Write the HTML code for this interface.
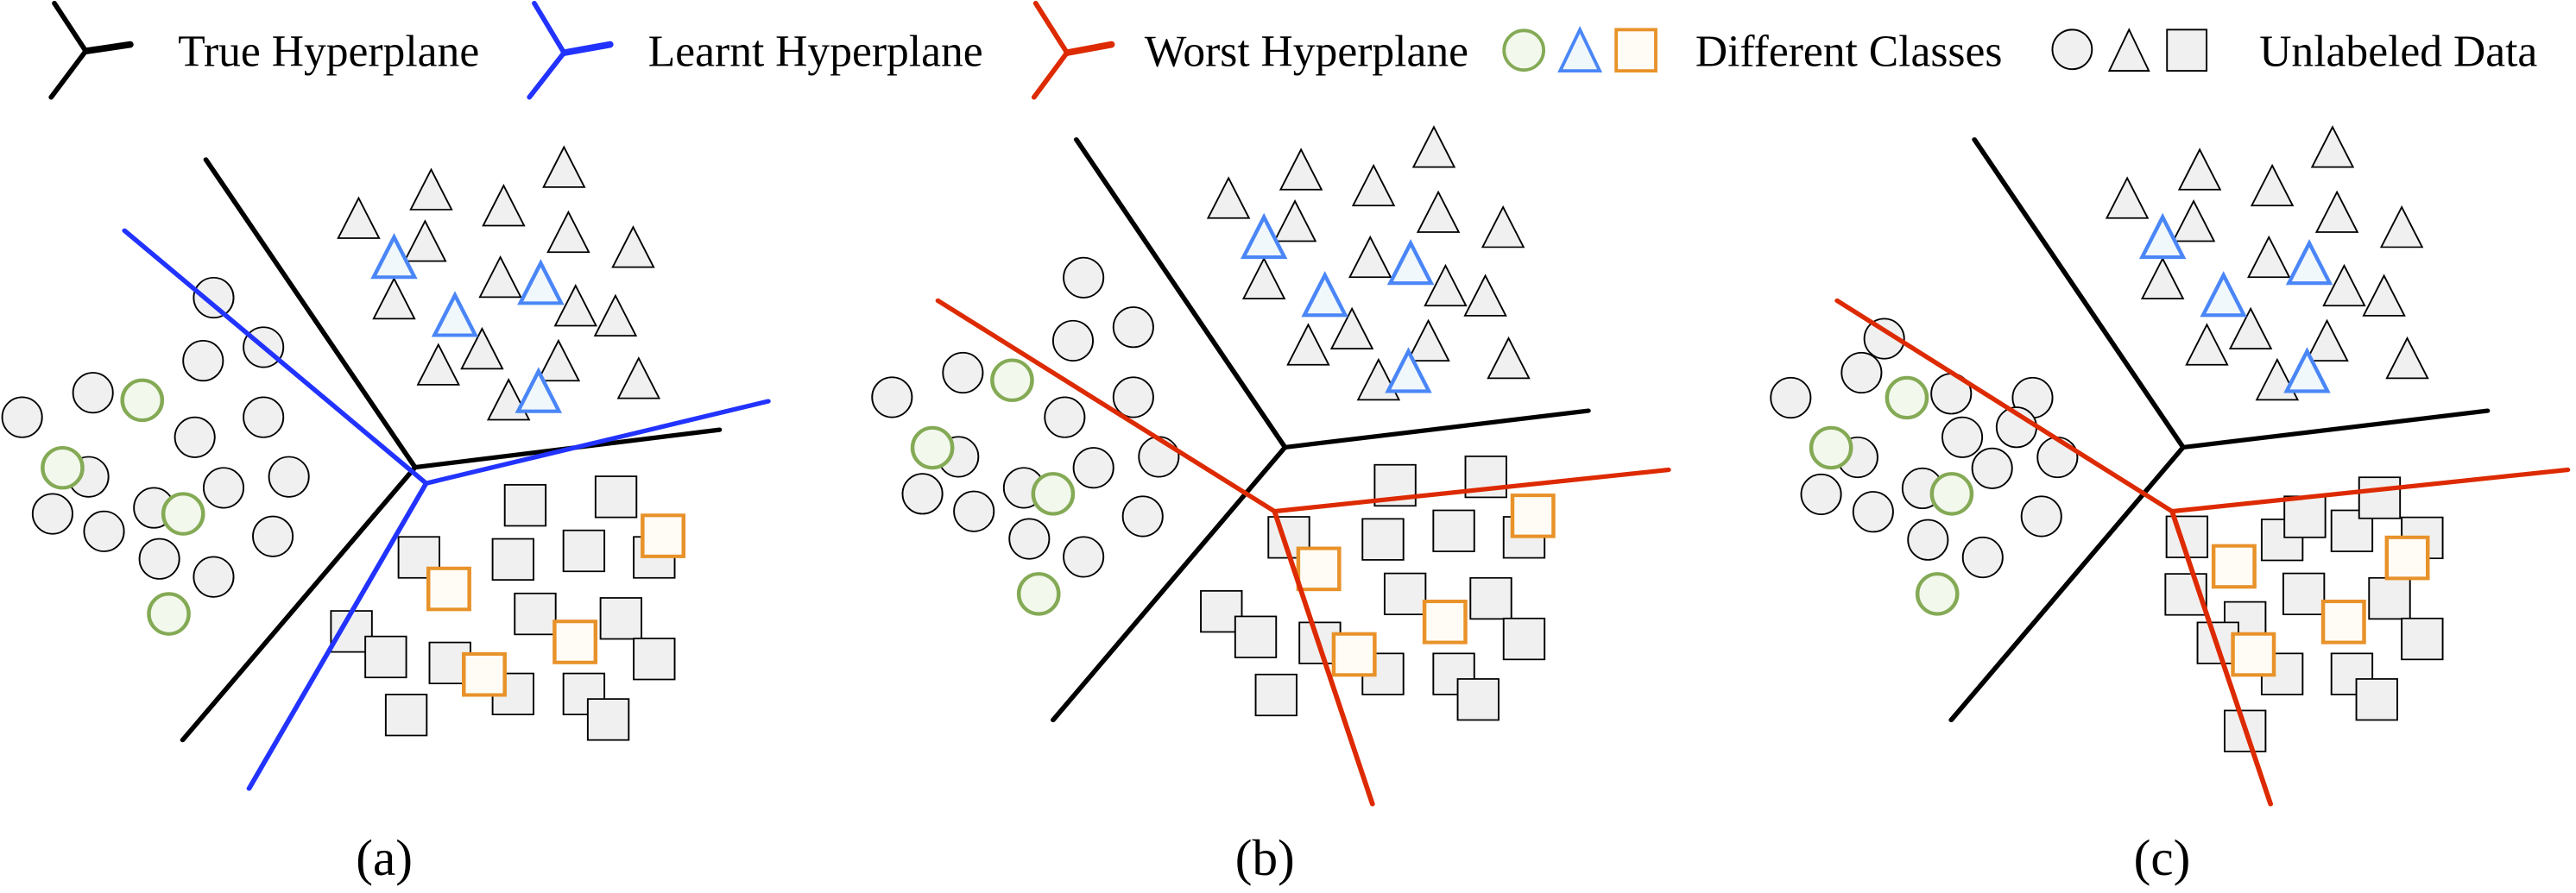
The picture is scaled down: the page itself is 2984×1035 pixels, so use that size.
<!DOCTYPE html>
<html><head><meta charset="utf-8"><style>html,body{margin:0;padding:0;background:#fff}svg{display:block}</style></head>
<body>
<svg width="2984" height="1035" viewBox="0 0 1562 542" preserveAspectRatio="none" xmlns="http://www.w3.org/2000/svg">
<defs>
<path id="t" d="M0,0 L37,80 L-37,80 Z" fill="#f0f0f0" stroke="#000" stroke-width="3"/>
<path id="tb" d="M0,0 L37,80 L-37,80 Z" fill="#f0f8fc" stroke="#4a86f7" stroke-width="7"/>
<ellipse id="c" rx="36" ry="40" fill="#f0f0f0" stroke="#000" stroke-width="3"/>
<ellipse id="cg" rx="36" ry="40" fill="#f2f8ec" stroke="#84aa55" stroke-width="7"/>
<rect id="s" width="74" height="82" fill="#f0f0f0" stroke="#000" stroke-width="3"/>
<rect id="so" width="74" height="82" fill="#fffcf5" stroke="#e8922a" stroke-width="7"/>
</defs>
<!-- Legend -->
<g fill="none" stroke-width="3" stroke-linecap="round">
<polyline points="33,2 52,31 31,59" stroke="#000"/><line x1="52" y1="31" x2="79" y2="27" stroke="#000" stroke-width="4"/>
<polyline points="324,2 342,32 321,59" stroke="#2233ff"/><line x1="342" y1="32" x2="370" y2="27" stroke="#2233ff" stroke-width="4"/>
<polyline points="628,2 647,32 627,59" stroke="#dd2a00"/><line x1="647" y1="32" x2="674" y2="27" stroke="#dd2a00" stroke-width="4"/>
</g>
<g font-family="Liberation Serif, serif" font-size="27" fill="#000">
<text x="108" y="40">True Hyperplane</text>
<text x="393" y="40">Learnt Hyperplane</text>
<text x="694" y="40">Worst Hyperplane</text>
<text x="1028" y="40">Different Classes</text>
<text x="1370" y="40">Unlabeled Data</text>
</g>
<circle cx="924" cy="30.5" r="12" fill="#f2f8ec" stroke="#84aa55" stroke-width="2"/>
<path d="M958,18 L970,43 L946,43 Z" fill="#f0f8fc" stroke="#4a86f7" stroke-width="2"/>
<rect x="980" y="18" width="24" height="25" fill="#fffcf5" stroke="#e8922a" stroke-width="2"/>
<circle cx="1256.5" cy="30" r="12" fill="#f0f0f0" stroke="#000" stroke-width="1"/>
<path d="M1291,18 L1303,43 L1279,43 Z" fill="#f0f0f0" stroke="#000" stroke-width="1"/>
<rect x="1314" y="18" width="24" height="25" fill="#f0f0f0" stroke="#000" stroke-width="1"/>

<!-- Panel a -->
<g transform="translate(0,68) scale(0.3356,0.3037)">
<g>
<use href="#c" x="386" y="371"/><use href="#c" x="476" y="470"/><use href="#c" x="367" y="497"/><use href="#c" x="168" y="561"/><use href="#c" x="40" y="610"/><use href="#c" x="476" y="610"/><use href="#c" x="352" y="650"/><use href="#c" x="160" y="729"/><use href="#c" x="522" y="729"/><use href="#c" x="404" y="751"/><use href="#c" x="95" y="803"/><use href="#c" x="278" y="791"/><use href="#c" x="188" y="838"/><use href="#c" x="493" y="848"/><use href="#c" x="288" y="893"/><use href="#c" x="386" y="929"/>
<use href="#cg" x="257" y="576"/><use href="#cg" x="113" y="711"/><use href="#cg" x="331" y="803"/><use href="#cg" x="305" y="1003"/>
<use href="#t" x="648" y="172"/><use href="#t" x="779" y="115"/><use href="#t" x="910" y="147"/><use href="#t" x="1019" y="70"/><use href="#t" x="768" y="218"/><use href="#t" x="1027" y="200"/><use href="#t" x="1144" y="230"/><use href="#t" x="712" y="333"/><use href="#t" x="904" y="290"/><use href="#t" x="1040" y="347"/><use href="#t" x="1112" y="367"/><use href="#t" x="792" y="465"/><use href="#t" x="871" y="433"/><use href="#t" x="1009" y="457"/><use href="#t" x="1154" y="492"/><use href="#t" x="919" y="535"/>
<use href="#tb" x="712" y="250"/><use href="#tb" x="977" y="302"/><use href="#tb" x="822" y="366"/><use href="#tb" x="973" y="518"/>
<use href="#s" x="912" y="745"/><use href="#s" x="1076" y="728"/><use href="#s" x="720" y="849"/><use href="#s" x="890" y="853"/><use href="#s" x="1018" y="836"/><use href="#s" x="1145" y="849"/><use href="#s" x="930" y="962"/><use href="#s" x="1085" y="971"/><use href="#s" x="598" y="997"/><use href="#s" x="660" y="1048"/><use href="#s" x="776" y="1060"/><use href="#s" x="1145" y="1052"/><use href="#s" x="890" y="1122"/><use href="#s" x="1018" y="1122"/><use href="#s" x="1062" y="1173"/><use href="#s" x="697" y="1164"/>
<use href="#so" x="1161" y="806"/><use href="#so" x="774" y="912"/><use href="#so" x="1002" y="1018"/><use href="#so" x="838" y="1083"/>
</g>
<g fill="none" stroke-width="9" stroke-linecap="round" stroke-linejoin="round">
<polyline points="372,95 750,710 1300,635" stroke="#000"/><line x1="750" y1="710" x2="330" y2="1255" stroke="#000"/>
<polyline points="225,237 770,742 1388,578" stroke="#2233ff"/><line x1="770" y1="742" x2="450" y2="1352" stroke="#2233ff"/>
</g>
</g>

<!-- Panel b -->
<g transform="translate(523.45,68) scale(0.3356,0.3037)">
<g transform="translate(12,-40)">
<use href="#c" x="386" y="371"/><use href="#c" x="476" y="470"/><use href="#c" x="367" y="497"/><use href="#c" x="168" y="561"/><use href="#c" x="40" y="610"/><use href="#c" x="476" y="610"/><use href="#c" x="352" y="650"/><use href="#c" x="160" y="729"/><use href="#c" x="522" y="729"/><use href="#c" x="404" y="751"/><use href="#c" x="95" y="803"/><use href="#c" x="278" y="791"/><use href="#c" x="188" y="838"/><use href="#c" x="493" y="848"/><use href="#c" x="288" y="893"/><use href="#c" x="386" y="929"/>
<use href="#cg" x="257" y="576"/><use href="#cg" x="113" y="711"/><use href="#cg" x="331" y="803"/><use href="#cg" x="305" y="1003"/>
<use href="#t" x="648" y="172"/><use href="#t" x="779" y="115"/><use href="#t" x="910" y="147"/><use href="#t" x="1019" y="70"/><use href="#t" x="768" y="218"/><use href="#t" x="1027" y="200"/><use href="#t" x="1144" y="230"/><use href="#t" x="712" y="333"/><use href="#t" x="904" y="290"/><use href="#t" x="1040" y="347"/><use href="#t" x="1112" y="367"/><use href="#t" x="792" y="465"/><use href="#t" x="871" y="433"/><use href="#t" x="1009" y="457"/><use href="#t" x="1154" y="492"/><use href="#t" x="919" y="535"/>
<use href="#tb" x="712" y="250"/><use href="#tb" x="977" y="302"/><use href="#tb" x="822" y="366"/><use href="#tb" x="973" y="518"/>
<use href="#s" x="912" y="745"/><use href="#s" x="1076" y="728"/><use href="#s" x="720" y="849"/><use href="#s" x="890" y="853"/><use href="#s" x="1018" y="836"/><use href="#s" x="1145" y="849"/><use href="#s" x="930" y="962"/><use href="#s" x="1085" y="971"/><use href="#s" x="598" y="997"/><use href="#s" x="660" y="1048"/><use href="#s" x="776" y="1060"/><use href="#s" x="1145" y="1052"/><use href="#s" x="890" y="1122"/><use href="#s" x="1018" y="1122"/><use href="#s" x="1062" y="1173"/><use href="#s" x="697" y="1164"/>
<use href="#so" x="1161" y="806"/><use href="#so" x="774" y="912"/><use href="#so" x="1002" y="1018"/><use href="#so" x="838" y="1083"/>
</g>
<g fill="none" stroke-width="9" stroke-linecap="round" stroke-linejoin="round">
<polyline points="385,55 762,670 1310,597" stroke="#000"/><line x1="762" y1="670" x2="343" y2="1215" stroke="#000"/>
<polyline points="135,377 743,798 1455,715" stroke="#dd2a00"/><line x1="743" y1="798" x2="920" y2="1383" stroke="#dd2a00"/>
</g>
</g>

<!-- Panel c -->
<g transform="translate(1038.5,68) scale(0.3356,0.3037)">
<g>
<use href="#c" x="310" y="453"/><use href="#c" x="269" y="521"/><use href="#c" x="141" y="571"/><use href="#c" x="431" y="563"/><use href="#c" x="578" y="571"/><use href="#c" x="451" y="650"/><use href="#c" x="549" y="630"/><use href="#c" x="262" y="690"/><use href="#c" x="623" y="690"/><use href="#c" x="505" y="712"/><use href="#c" x="196" y="764"/><use href="#c" x="379" y="752"/><use href="#c" x="290" y="799"/><use href="#c" x="594" y="808"/><use href="#c" x="389" y="855"/><use href="#c" x="488" y="890"/>
<use href="#cg" x="351" y="571"/><use href="#cg" x="214" y="671"/><use href="#cg" x="432" y="763"/><use href="#cg" x="406" y="963"/>
</g>
<g transform="translate(101,-40)">
<use href="#t" x="648" y="172"/><use href="#t" x="779" y="115"/><use href="#t" x="910" y="147"/><use href="#t" x="1019" y="70"/><use href="#t" x="768" y="218"/><use href="#t" x="1027" y="200"/><use href="#t" x="1144" y="230"/><use href="#t" x="712" y="333"/><use href="#t" x="904" y="290"/><use href="#t" x="1040" y="347"/><use href="#t" x="1112" y="367"/><use href="#t" x="792" y="465"/><use href="#t" x="871" y="433"/><use href="#t" x="1009" y="457"/><use href="#t" x="1154" y="492"/><use href="#t" x="919" y="535"/>
<use href="#tb" x="712" y="250"/><use href="#tb" x="977" y="302"/><use href="#tb" x="822" y="366"/><use href="#tb" x="973" y="518"/>
</g>
<g>
<use href="#s" x="820" y="808"/><use href="#s" x="992" y="814"/><use href="#s" x="1033" y="768"/><use href="#s" x="1118" y="796"/><use href="#s" x="1168" y="730"/><use href="#s" x="1245" y="810"/><use href="#s" x="818" y="923"/><use href="#s" x="1031" y="922"/><use href="#s" x="1186" y="931"/><use href="#s" x="925" y="979"/><use href="#s" x="876" y="1020"/><use href="#s" x="1245" y="1012"/><use href="#s" x="992" y="1082"/><use href="#s" x="1118" y="1082"/><use href="#s" x="1163" y="1133"/><use href="#s" x="925" y="1196"/>
<use href="#so" x="905" y="867"/><use href="#so" x="1218" y="850"/><use href="#so" x="1103" y="978"/><use href="#so" x="940" y="1043"/>
</g>
<g fill="none" stroke-width="9" stroke-linecap="round" stroke-linejoin="round">
<polyline points="473,55 850,670 1400,597" stroke="#000"/><line x1="850" y1="670" x2="431" y2="1215" stroke="#000"/>
<polyline points="225,377 830,798 1545,715" stroke="#dd2a00"/><line x1="830" y1="798" x2="1008" y2="1383" stroke="#dd2a00"/>
</g>
</g>

<g font-family="Liberation Serif, serif" font-size="31" fill="#000" text-anchor="middle">
<text x="233" y="531">(a)</text>
<text x="767" y="531">(b)</text>
<text x="1311" y="531">(c)</text>
</g>
</svg>
</body></html>
